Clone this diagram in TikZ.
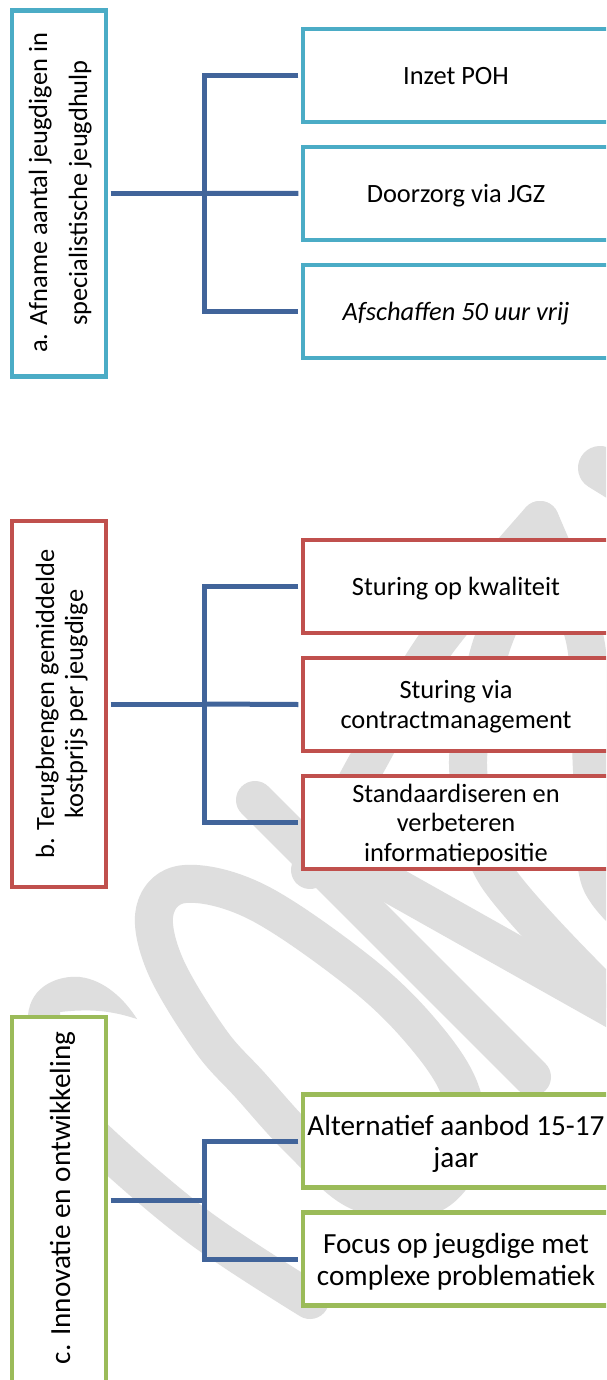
\documentclass[tikz,border=0pt]{standalone}
\usepackage{fontspec}
\setmainfont{Carlito}
\definecolor{aqua}{HTML}{4BACC6}
\definecolor{redb}{HTML}{C0504D}
\definecolor{greenb}{HTML}{9BBB59}
\definecolor{connblue}{HTML}{41649A}
\definecolor{wmgray}{HTML}{DEDEDE}
\begin{document}
\begin{tikzpicture}[x=1pt,y=-1pt,
  mainbox/.style={draw, fill=white, line width=4.6pt, minimum width=94pt, minimum height=366pt, inner sep=0pt},
  childbox/.style={draw, fill=white, line width=4.6pt, minimum width=306pt, minimum height=93pt, inner sep=0pt, align=center, text depth=0pt},
  conn/.style={draw=connblue, line width=5pt},
  wm/.style={draw=wmgray, line width=38pt, line cap=round, line join=round},
  fab/.style={font=\fontsize{26.4}{29.5}\selectfont},
  fc/.style={font=\fontsize{29.2}{32}\selectfont},
  vtext/.style={rotate=90, anchor=base, inner sep=0pt},
]
\useasboundingbox (0,0) rectangle (606,1380);
\fill[white] (0,0) rectangle (606,1380);
\clip (0,0) rectangle (606,1380);

% watermark
\draw[wm, line width=44pt] (600,468) -- (660,505);
\draw[wm] plot[smooth, tension=0.5] coordinates {(310,870) (367,763) (435,645) (540,520)};
\draw[wm] plot[smooth, tension=0.5] coordinates {(540,520) (585,640) (592,770) (600,880) (650,935)};
\draw[wm] plot[smooth, tension=0.5] coordinates {(525,570) (490,650) (468,765) (495,873) (600,990)};
\draw[wm] (255,800) -- (532,1077);
\draw[wm] (330,850) -- (650,1030);
\draw[wm] plot[smooth cycle, tension=0.6] coordinates {(185,884) (257,902) (357,970) (420,1030) (460,1090) (465,1150) (430,1195) (360,1192) (300,1140) (250,1085) (210,1040) (165,965) (155,910)};
\fill[wmgray] (28,1016) .. controls (30,985) and (60,975) .. (80,977) .. controls (105,980) and (125,1000) .. (137,1019) .. controls (115,1012) and (95,1008) .. (60,1012) -- (60,1030) -- cycle;
\draw[wm] plot[smooth, tension=0.6] coordinates {(60,1100) (104,1147) (200,1228) (310,1300)};

% group a
\node[mainbox, draw=aqua] (ma) at (59,193.25) {};
\node[fab, vtext] (mat1) at (47,193) {a. Afname aantal jeugdigen in};
\node[fab, vtext] (mat2) at (87,193) {specialistische jeugdhulp};
\node[childbox, draw=aqua, fab] (a1) at (456,75.5) {Inzet POH};
\node[childbox, draw=aqua, fab] (a2) at (456,193.5) {Doorzorg via JGZ};
\node[childbox, draw=aqua, fab] (a3) at (456,311.5) {\itshape Afschaffen 50 uur vrij};
\coordinate (ja) at (204,193.25);
\draw[conn] ([xshift=2.3pt]ma.east) -- (ja);
\draw[conn] ([xshift=-2.3pt]a1.west) -| (ja) |- ([xshift=-2.3pt]a3.west);
\draw[conn] (ja) -- ([xshift=-2.3pt]a2.west);

% group b
\node[mainbox, draw=redb] (mb) at (59,704) {};
\node[fab, vtext] (mbt1) at (54,704) {b. Terugbrengen gemiddelde};
\node[fab, vtext] (mbt2) at (83,704) {kostprijs per jeugdige};
\node[childbox, draw=redb, fab] (b1) at (456,586.5) {Sturing op kwaliteit};
\node[childbox, draw=redb, fab] (b2) at (456,704.5) {Sturing via\\contractmanagement};
\node[childbox, draw=redb, fab] (b3) at (456,822.5) {Standaardiseren en\\verbeteren\\informatiepositie};
\coordinate (jb) at (204,704);
\draw[conn] ([xshift=2.3pt]mb.east) -- (jb);
\draw[conn] ([xshift=-2.3pt]b1.west) -| (jb) |- ([xshift=-2.3pt]b3.west);
\draw[conn] (jb) -- ([xshift=-2.3pt]b2.west);

% group c
\node[mainbox, draw=greenb] (mc) at (59,1200) {};
\node[fc, vtext] (mct1) at (70,1198) {c. Innovatie en ontwikkeling};
\node[childbox, draw=greenb, fc] (c1) at (456,1141) {Alternatief aanbod 15-17\\jaar};
\node[childbox, draw=greenb, fc] (c2) at (456,1259) {Focus op jeugdige met\\complexe problematiek};
\coordinate (jc) at (204,1200);
\draw[conn] ([xshift=2.3pt]mc.east) -- (jc);
\draw[conn] ([xshift=-2.3pt]c1.west) -| (jc) |- ([xshift=-2.3pt]c2.west);
\end{tikzpicture}
\end{document}
